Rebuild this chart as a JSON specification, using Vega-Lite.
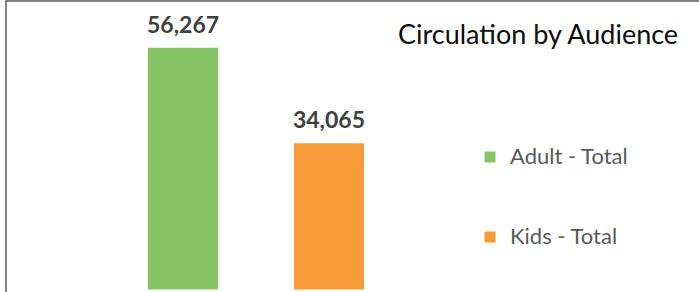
{
  "$schema": "https://vega.github.io/schema/vega-lite/v6.json",
  "autosize": "none",
  "width": 700,
  "height": 292,
  "padding": {"left": 6, "top": 1, "right": 0, "bottom": 0},
  "background": "white",
  "config": {
    "view": {"stroke": "#595959", "strokeWidth": 1.5}
  },
  "title": {
    "text": "Circulation by Audience",
    "anchor": "start",
    "frame": "group",
    "orient": "top",
    "baseline": "alphabetic",
    "offset": 0,
    "dx": 392,
    "dy": 70,
    "font": "Lato",
    "fontSize": 27,
    "fontWeight": "normal",
    "color": "#0d0d0d"
  },
  "data": {
    "values": [
      {"audience": "Adult - Total", "circulation": 56267},
      {"audience": "Kids - Total", "circulation": 34065}
    ]
  },
  "encoding": {
    "x": {
      "field": "audience",
      "type": "nominal",
      "sort": null,
      "axis": null,
      "scale": {"range": [142, 358], "paddingInner": 0.52, "paddingOuter": 0}
    },
    "y": {
      "field": "circulation",
      "type": "quantitative",
      "axis": null,
      "scale": {"domain": [-812, 67172], "nice": false, "zero": false}
    }
  },
  "layer": [
    {
      "mark": {"type": "bar"},
      "encoding": {
        "color": {
          "field": "audience",
          "type": "nominal",
          "scale": {"domain": ["Adult - Total", "Kids - Total"], "range": ["#86C566", "#F79B38"]},
          "legend": {
            "orient": "none",
            "legendX": 473,
            "legendY": 145,
            "title": null,
            "symbolType": "square",
            "symbolSize": 121,
            "symbolStrokeWidth": 0,
            "labelFont": "Lato",
            "labelFontSize": 22,
            "labelColor": "#595959",
            "labelOffset": 9,
            "rowPadding": 58
          }
        }
      }
    },
    {
      "mark": {
        "type": "text",
        "baseline": "alphabetic",
        "dy": -15,
        "font": "Lato",
        "fontSize": 23,
        "fontWeight": "bold",
        "color": "#404040"
      },
      "encoding": {
        "text": {"field": "circulation", "type": "quantitative", "format": ","}
      }
    }
  ]
}
